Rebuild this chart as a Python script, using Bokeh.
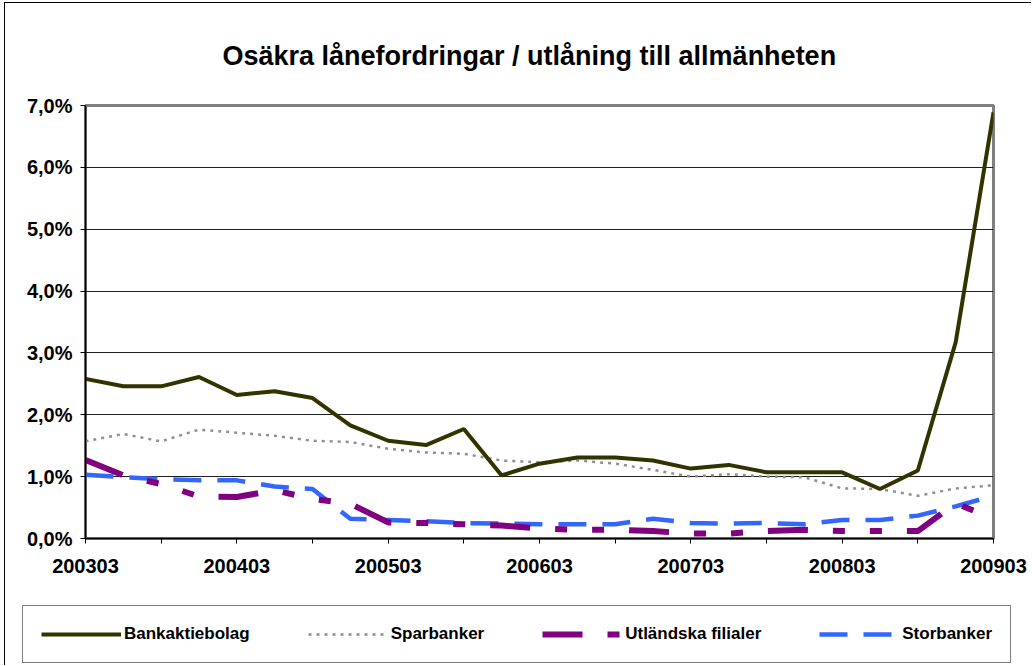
from bokeh.plotting import figure
from bokeh.layouts import column, row
from bokeh.models import FixedTicker, Legend, LegendItem, Range1d
from bokeh.embed import file_html
from bokeh.resources import INLINE

quarters = ["200303", "200306", "200309", "200312",
            "200403", "200406", "200409", "200412",
            "200503", "200506", "200509", "200512",
            "200603", "200606", "200609", "200612",
            "200703", "200706", "200709", "200712",
            "200803", "200806", "200809", "200812",
            "200903"]

bankaktiebolag = [2.58, 2.46, 2.46, 2.61, 2.32, 2.38, 2.27, 1.83, 1.58, 1.51, 1.77, 1.02,
                  1.21, 1.31, 1.31, 1.26, 1.13, 1.19, 1.07, 1.07, 1.07, 0.80, 1.10, 3.17, 6.89]
sparbanker = [1.57, 1.69, 1.57, 1.76, 1.71, 1.66, 1.58, 1.56, 1.45, 1.39, 1.37, 1.26,
              1.23, 1.26, 1.21, 1.11, 1.00, 1.04, 1.00, 0.99, 0.81, 0.80, 0.69, 0.81, 0.86]
utlandska = [1.27, 1.02, 0.88, 0.68, 0.67, 0.78, 0.64, 0.56, 0.26, 0.25, 0.23, 0.21,
             0.16, 0.14, 0.14, 0.12, 0.08, 0.08, 0.12, 0.14, 0.12, 0.12, 0.12, 0.57, 0.32]
storbanker = [1.03, 0.99, 0.96, 0.94, 0.94, 0.84, 0.80, 0.32, 0.30, 0.28, 0.25, 0.24,
              0.23, 0.23, 0.23, 0.32, 0.25, 0.24, 0.25, 0.23, 0.30, 0.30, 0.37, 0.52, 0.69]

series_names = ["Bankaktiebolag", "Sparbanker", "Utländska filialer", "Storbanker"]

y_ticks = [0, 1, 2, 3, 4, 5, 6, 7]
y_tick_labels = ["0,0%", "1,0%", "2,0%", "3,0%", "4,0%", "5,0%", "6,0%", "7,0%"]

title_text = "Osäkra lånefordringar / utlåning till allmänheten"

x = list(range(len(quarters)))
FONT = "Liberation Sans"

styles = {
    "Bankaktiebolag": dict(line_color="#333300", line_width=4),
    "Sparbanker": dict(line_color="#909090", line_width=2.5, line_dash="3 5"),
    "Utländska filialer": dict(line_color="#800080", line_width=6, line_dash="40 25 12 25 12 25"),
    "Storbanker": dict(line_color="#3366FF", line_width=4.5, line_dash="28 16"),
}
data = {"Bankaktiebolag": bankaktiebolag, "Sparbanker": sparbanker,
        "Utländska filialer": utlandska, "Storbanker": storbanker}

p = figure(width=1026, height=592, output_backend="svg", toolbar_location=None,
           x_range=Range1d(0, len(quarters) - 1), y_range=Range1d(0, 7),
           min_border_left=80, min_border_right=38, min_border_top=102, min_border_bottom=57)

p.title.text = title_text
p.title.align = "left"
p.title.offset = 137
p.title.standoff = 70
p.title.text_font = FONT
p.title.text_font_style = "bold"
p.title.text_font_size = "27px"
p.title.text_color = "#000000"

p.outline_line_color = "#808080"
p.outline_line_width = 3

# grid
p.xgrid.visible = False
p.ygrid.ticker = FixedTicker(ticks=y_ticks)
p.ygrid.grid_line_color = "#202020"
p.ygrid.grid_line_width = 1

# y axis
p.yaxis.ticker = FixedTicker(ticks=y_ticks)
p.yaxis.major_label_overrides = {t: l for t, l in zip(y_ticks, y_tick_labels)}
p.yaxis.major_label_text_font = FONT
p.yaxis.major_label_text_font_style = "bold"
p.yaxis.major_label_text_font_size = "20px"
p.yaxis.major_label_text_color = "#000000"
p.yaxis.major_tick_out = 5
p.yaxis.major_tick_in = 0
p.yaxis.minor_tick_out = 0
p.yaxis.minor_tick_in = 0
p.yaxis.major_label_standoff = 8
p.yaxis.axis_line_color = "#000000"
p.yaxis.axis_line_width = 1.5
p.yaxis.major_tick_line_color = "#000000"

# x axis
xt = list(range(0, len(quarters), 2))
p.xaxis.ticker = FixedTicker(ticks=xt)
p.xaxis.major_label_overrides = {i: (quarters[i] if i % 4 == 0 else "") for i in xt}
p.xaxis.major_label_text_font = FONT
p.xaxis.major_label_text_font_style = "bold"
p.xaxis.major_label_text_font_size = "20px"
p.xaxis.major_label_text_color = "#000000"
p.xaxis.major_tick_out = 5
p.xaxis.major_tick_in = 0
p.xaxis.minor_tick_out = 0
p.xaxis.minor_tick_in = 0
p.xaxis.major_label_standoff = 15
p.xaxis.axis_line_color = "#000000"
p.xaxis.axis_line_width = 1.5
p.xaxis.major_tick_line_color = "#000000"

draw_order = ["Sparbanker", "Storbanker", "Utländska filialer", "Bankaktiebolag"]
for name in draw_order:
    p.line(x, data[name], **styles[name])

# legend panel below the chart (series drawn out of its view, used only for legend glyphs)
leg = figure(width=1026, height=70, output_backend="svg", toolbar_location=None,
             x_range=Range1d(0, 1), y_range=Range1d(100, 101),
             x_axis_location=None, y_axis_location=None,
             min_border_left=0, min_border_right=0, min_border_top=0, min_border_bottom=0)
leg.grid.visible = False
leg.outline_line_color = None

items = []
for name in series_names:
    r = leg.line(x, data[name], **styles[name])
    items.append(LegendItem(label=name, renderers=[r]))

legend = Legend(items=items, orientation="horizontal", location=(17, 2),
                glyph_width=80, glyph_height=20, label_standoff=3, spacing=58,
                padding=18, margin=0,
                label_text_font=FONT, label_text_font_style="bold",
                label_text_font_size="17px", label_text_color="#000000",
                border_line_color="#000000", border_line_width=1,
                background_fill_color="#ffffff", background_fill_alpha=1)
leg.add_layout(legend)

layout = column(p, row(leg, spacing=0), spacing=0)
layout.styles = {"border-left": "1px solid #000000", "border-top": "1px solid #000000",
                 "margin-left": "4px", "margin-top": "2px"}

open("out.html", "w").write(file_html(layout, INLINE))
